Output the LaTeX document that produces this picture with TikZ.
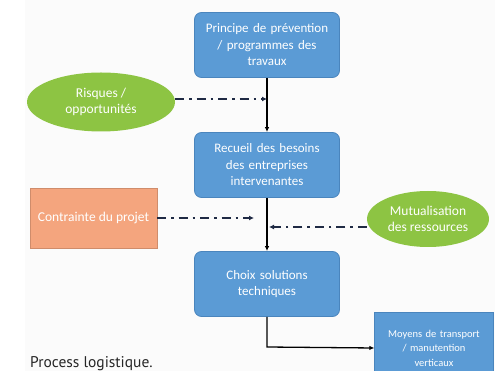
\documentclass[tikz,border=0pt]{standalone}
\usepackage{fontspec}
\setmainfont{Carlito}
\newfontfamily\capfont{PT Sans}
\usetikzlibrary{arrows.meta,shapes.geometric}
\definecolor{bbox}{HTML}{5B9BD5}
\definecolor{bborder}{HTML}{4A85BD}
\definecolor{gfill}{HTML}{8DC443}
\definecolor{ofill}{HTML}{F4A57E}
\definecolor{dline}{HTML}{1F2A44}
\tikzset{
  bluebox/.style={draw=bborder, line width=0.8pt, fill=bbox, rounded corners=7pt, minimum width=145pt, minimum height=65pt, text width=135pt, align=center, text=white, font=\fontsize{13}{16.5}\selectfont},
  plainbox/.style={draw=bborder, line width=0.6pt, fill=bbox, minimum width=118pt, minimum height=72pt, text width=112pt, align=center, text=white, font=\fontsize{10.5}{14.5}\selectfont},
  greenell/.style={ellipse, fill=gfill, inner sep=0pt, align=center, text=white, font=\fontsize{13.5}{16}\selectfont},
  orangebox/.style={fill=ofill, draw=ofill!85!black, line width=0.4pt, minimum width=127pt, minimum height=60pt, text=white, font=\fontsize{13.5}{16}\selectfont},
  trunk/.style={draw=black, line width=1.3pt, -{Latex[length=5pt,width=4.5pt]}},
  dashdot/.style={draw=dline, line width=1.8pt, dash pattern=on 9pt off 5pt on 2.5pt off 5pt, -{Latex[length=5pt,width=5pt]}},
}
\begin{document}
\begin{tikzpicture}[x=1pt,y=-1pt]
\useasboundingbox (0,0) rectangle (495,371);
\clip (0,0) rectangle (495,371);
\fill[white] (0,0) rectangle (495,371);
\fill[black!1.5] (25,0) rectangle (495,371);
\node[bluebox] (b1) at (267,45) {Principe de prévention\\/ programmes des\\travaux};
\node[bluebox] (b2) at (267,165) {Recueil des besoins\\des entreprises\\intervenantes};
\node[bluebox] (b3) at (267,284) {Choix solutions\\techniques};
\node[plainbox] (b4) at (434,348) {Moyens de transport\\/ manutention\\verticaux};
\node[greenell, minimum width=148pt, minimum height=59pt] (risk) at (101,102) {Risques /\\opportunités};
\node[orangebox] (ctr) at (93.5,218) {Contrainte du projet};
\node[greenell, minimum width=122pt, minimum height=56pt] (mut) at (428,219) {Mutualisation\\des ressources};
\coordinate (j1) at (267,99);
\coordinate (j2) at (254,218);
\coordinate (j3) at (269,227);
\coordinate (bend) at (267,347);
\draw[trunk] (b1.south) -- (b2.north);
\draw[trunk] (b2.south) -- (b3.north);
\draw[trunk] (b3.south) -- (bend) -- (b4.west);
\draw[dashdot] (risk.east |- j1) -- (j1);
\draw[dashdot] (ctr.east |- j2) -- (j2);
\draw[dashdot] (mut.west |- j3) -- (j3);
\node[anchor=base west, font=\capfont\fontsize{15.5}{18}\selectfont, text=black!85, inner sep=0pt] (cap) at (30,367) {Process logistique.};
\end{tikzpicture}
\end{document}
